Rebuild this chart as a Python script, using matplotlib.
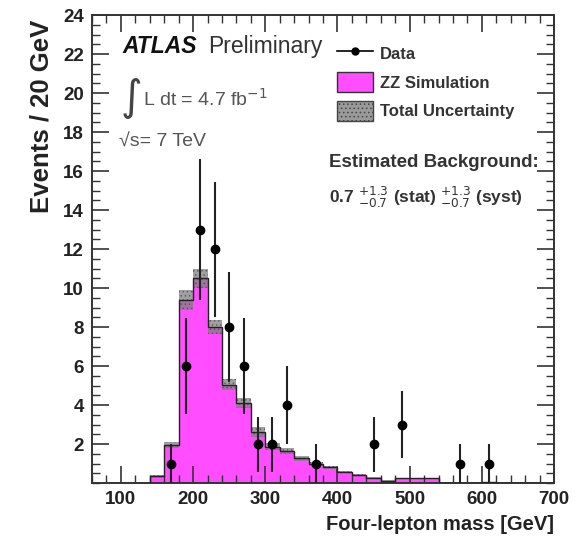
import numpy as np
import matplotlib
matplotlib.use('Agg')
import matplotlib.pyplot as plt
from matplotlib.lines import Line2D
from matplotlib.patches import Patch
from matplotlib.ticker import MultipleLocator

# ZZ simulation, 20 GeV bins starting at 140 GeV
bin_width = 20
first_edge = 140
mc_counts = [0.35, 1.95, 9.4, 10.5, 8.0, 5.05, 4.1, 2.63, 1.87, 1.65, 1.27, 1.0,
             0.82, 0.58, 0.42, 0.26, 0.13, 0.24, 0.24, 0.24, 0, 0, 0, 0.05,
             0, 0, 0, 0]
mc_unc = [0.08, 0.15, 0.5, 0.5, 0.35, 0.3, 0.25, 0.25, 0.18, 0.15, 0.12, 0.1,
          0.08, 0.06, 0.05, 0.04, 0.03, 0.04, 0.04, 0.04, 0, 0, 0, 0.02,
          0, 0, 0, 0]

# data points (bin centres, events)
data_mass = [170, 190, 210, 230, 250, 270, 290, 310, 330, 370, 450, 490, 570, 610]
data_counts = [1, 6, 13, 12, 8, 6, 2, 2, 4, 1, 2, 3, 1, 1]

plt.rcParams['font.family'] = ['Liberation Sans', 'DejaVu Sans']
plt.rcParams['hatch.linewidth'] = 0.6

mc = np.array(mc_counts)
unc = np.array(mc_unc)
edges = first_edge + bin_width * np.arange(len(mc) + 1)

fig = plt.figure(figsize=(5.75, 5.38), dpi=100)
ax = fig.add_axes([0.16, 0.102, 0.8035, 0.87])

magenta = '#ff4dff'
ax.stairs(mc, edges, fill=True, color=magenta, zorder=1)
ax.stairs(mc + unc, edges, baseline=mc - unc, fill=True, facecolor='#808080',
          edgecolor='#505050', hatch='....', alpha=0.75, lw=0, zorder=2)
ax.stairs(mc, edges, color='#222222', lw=1.0, zorder=3)

err = np.sqrt(data_counts)
ax.errorbar(data_mass, data_counts, yerr=err, fmt='o', color='black', ms=6,
            ecolor='#222222', elinewidth=1.5, capsize=0, zorder=5)

ax.set_xlim(60, 700)
ax.set_ylim(0, 24)
ax.set_xticks([100, 200, 300, 400, 500, 600, 700])
ax.set_yticks(range(2, 25, 2))
ax.xaxis.set_minor_locator(MultipleLocator(20))
ax.yaxis.set_minor_locator(MultipleLocator(0.5))
ax.tick_params(which='both', direction='in', top=True, right=True,
               colors='#333333', labelcolor='#222222')
ax.tick_params(which='major', length=12, width=1.2, labelsize=13.5, pad=6)
ax.tick_params(which='minor', length=6, width=1.0)
for lab in ax.get_xticklabels() + ax.get_yticklabels():
    lab.set_fontweight('bold')
for s in ax.spines.values():
    s.set_linewidth(1.4)
    s.set_color('#333333')

ax.set_xlabel('Four-lepton mass [GeV]', fontsize=14.5, fontweight='bold',
              color='#222222', ha='right', x=1.0, labelpad=5)
ax.set_ylabel('Events / 20 GeV', fontsize=18.5, fontweight='bold',
              color='#222222', ha='right', y=0.99, labelpad=7)

ax.text(0.065, 0.932, 'ATLAS', transform=ax.transAxes, fontsize=16.5,
        fontweight='bold', style='italic', color='#111111', va='center')
ax.text(0.251, 0.932, 'Preliminary', transform=ax.transAxes, fontsize=16.5,
        color='#333333', va='center')
ax.text(0.062, 0.822, '\u222b', transform=ax.transAxes, fontsize=30,
        family=['DejaVu Sans'], color='#444444', va='center')
ax.text(0.11, 0.822, r'L dt = 4.7 fb$^{-1}$', transform=ax.transAxes,
        fontsize=14, color='#555555', va='center')
ax.text(0.058, 0.729, '\u221as= 7 TeV', transform=ax.transAxes,
        fontsize=14, color='#555555', va='center')

handles = [Line2D([], [], color='black', marker='o', ms=5, lw=1.2),
           Patch(facecolor=magenta, edgecolor='#333333'),
           Patch(facecolor='#9a9a9a', edgecolor='#444444', hatch='....')]
leg = ax.legend(handles, ['Data', 'ZZ Simulation', 'Total Uncertainty'],
                loc='upper left', bbox_to_anchor=(0.53, 0.94), frameon=False,
                prop={'size': 12, 'weight': 'bold'}, handlelength=2.15,
                handleheight=1.45, labelspacing=0.55, handletextpad=0.42,
                borderaxespad=0, borderpad=0)
for t in leg.get_texts():
    t.set_color('#333333')

ax.text(0.512, 0.684, 'Estimated Background:', transform=ax.transAxes,
        fontsize=13.5, fontweight='bold', color='#333333', va='center')
ax.text(0.512, 0.611,
        r'0.7 $^{+1.3}_{-0.7}$ (stat) $^{+1.3}_{-0.7}$ (syst)',
        transform=ax.transAxes, fontsize=12.5, fontweight='bold',
        color='#333333', va='center')

fig.savefig('out.png', dpi=100)
